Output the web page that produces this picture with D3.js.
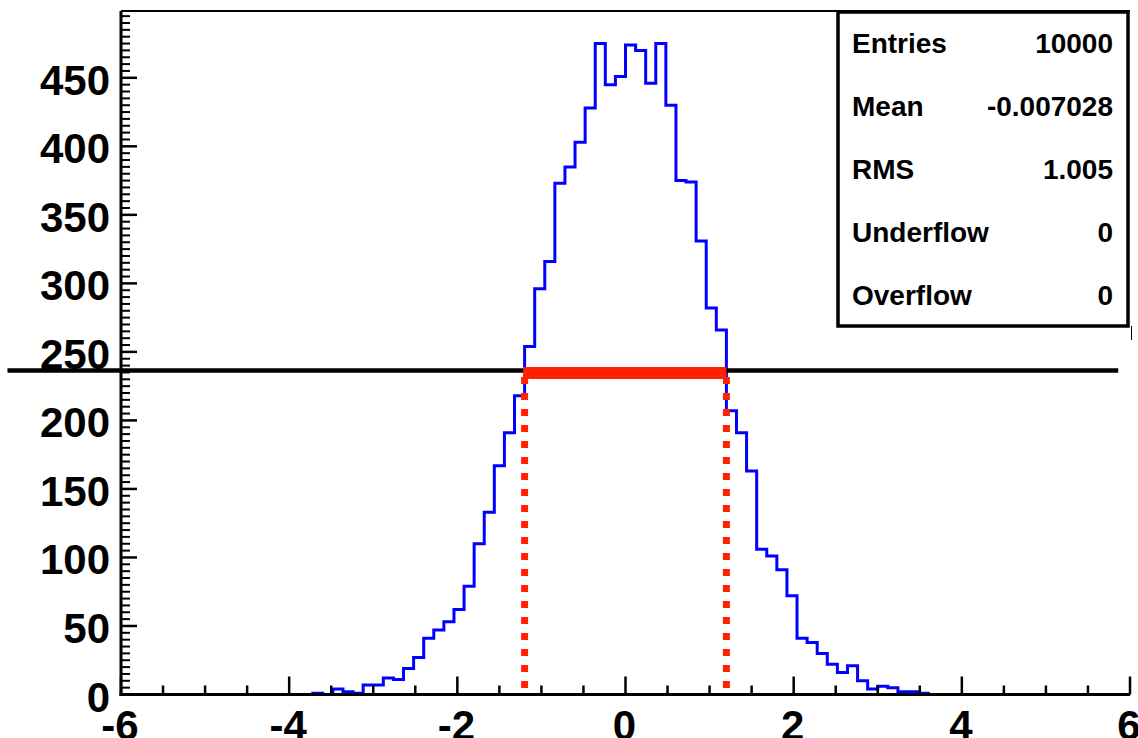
<!DOCTYPE html>
<html>
<head>
<meta charset="utf-8">
<script src="https://cdn.jsdelivr.net/npm/d3@7"></script>
<style>
  html, body { margin: 0; padding: 0; background: #fff; }
  svg { display: block; }
  text { font-family: "Liberation Sans", Arial, Helvetica, sans-serif; font-weight: bold; }
</style>
</head>
<body>
<svg id="chart" width="1138" height="738"></svg>
<script>
// Histogram binning: 100 bins from -6 to 6
const binLow = -6;
const binHigh = 6;
const nBins = 100;

// Bin contents, one value per bin (left to right)
const counts = [
  0, 0, 0, 0, 0, 0, 0, 0, 0, 0,
  0, 0, 0, 0, 0, 0, 0, 0, 0, 1,
  0, 4, 2, 1, 7, 7, 12, 11, 19, 27,
  41, 47, 53, 62, 79, 110, 133, 167, 191, 218,
  254, 296, 316, 373, 385, 403, 428, 475, 445, 451,
  474, 470, 446, 475, 430, 375, 374, 331, 282, 266,
  207, 191, 163, 106, 101, 91, 72, 41, 38, 30,
  22, 16, 21, 10, 4, 6, 5, 2, 2, 1,
  0, 0, 0, 0, 0, 0, 0, 0, 0, 0,
  0, 0, 0, 0, 0, 0, 0, 0, 0, 0
];

// Axis ticks
const xMajorTicks = [-6, -4, -2, 0, 2, 4, 6];
const xMinorStep = 0.5;
const yMajorTicks = [0, 50, 100, 150, 200, 250, 300, 350, 400, 450];
const yMinorStep = 5;

// Statistics box rows
const statNames = ["Entries", "Mean", "RMS", "Underflow", "Overflow"];
const statValues = ["10000", "-0.007028", "1.005", "0", "0"];

// Full width at half maximum: edges and the horizontal reference line
const fwhmEdges = [-1.2, 1.2];
const halfMaxLineX = [-7.35, 5.86];

const svg = d3.select("#chart");

const peak = d3.max(counts);
const yMax = 1.05 * peak;
const halfMax = peak / 2;

const x = d3.scaleLinear().domain([binLow, binHigh]).range([121, 1130]);
const y = d3.scaleLinear().domain([0, yMax]).range([694.5, 11]);

const binWidth = (binHigh - binLow) / nBins;

// Histogram outline as a step path
const pts = [[binLow, 0]];
counts.forEach((c, i) => {
  const lo = binLow + i * binWidth;
  pts.push([lo, c], [lo + binWidth, c]);
});
pts.push([binHigh, 0]);

const line = d3.line().x(d => x(d[0])).y(d => y(d[1]));

svg.append("path")
  .attr("d", line(pts))
  .attr("fill", "none")
  .attr("stroke", "#0000ff")
  .attr("stroke-width", 3)
  .attr("stroke-linejoin", "miter");

// Top frame edge
svg.append("line")
  .attr("x1", x(binLow)).attr("x2", x(binHigh))
  .attr("y1", y(yMax)).attr("y2", y(yMax))
  .attr("stroke", "#000").attr("stroke-width", 2);

// X axis
const gx = svg.append("g");
gx.append("line")
  .attr("x1", x(binLow) - 1.5).attr("x2", x(binHigh))
  .attr("y1", y(0)).attr("y2", y(0))
  .attr("stroke", "#000").attr("stroke-width", 3);
const xMinor = d3.range(binLow, binHigh + 1e-9, xMinorStep).filter(v => !xMajorTicks.includes(v));
gx.selectAll(".xminor").data(xMinor).enter().append("line")
  .attr("x1", d => x(d)).attr("x2", d => x(d))
  .attr("y1", y(0)).attr("y2", y(0) - 9)
  .attr("stroke", "#000").attr("stroke-width", 2.5);
gx.selectAll(".xmajor").data(xMajorTicks).enter().append("line")
  .attr("x1", d => x(d)).attr("x2", d => x(d))
  .attr("y1", y(0)).attr("y2", y(0) - 18)
  .attr("stroke", "#000").attr("stroke-width", 2.5);
gx.selectAll(".xlab").data(xMajorTicks).enter().append("text")
  .attr("x", d => x(d) - 1)
  .attr("y", 740)
  .attr("text-anchor", "middle")
  .attr("font-size", 42)
  .text(d => String(d));

// Y axis
const gy = svg.append("g");
gy.append("line")
  .attr("x1", x(binLow)).attr("x2", x(binLow))
  .attr("y1", y(yMax)).attr("y2", y(0) + 1.5)
  .attr("stroke", "#000").attr("stroke-width", 3);
const yMinor = d3.range(0, yMax, yMinorStep).filter(v => v % 50 !== 0);
gy.selectAll(".yminor").data(yMinor).enter().append("line")
  .attr("x1", x(binLow)).attr("x2", x(binLow) + 9)
  .attr("y1", d => y(d)).attr("y2", d => y(d))
  .attr("stroke", "#000").attr("stroke-width", 2);
gy.selectAll(".ymajor").data(yMajorTicks).enter().append("line")
  .attr("x1", x(binLow)).attr("x2", x(binLow) + 16)
  .attr("y1", d => y(d)).attr("y2", d => y(d))
  .attr("stroke", "#000").attr("stroke-width", 2.5);
gy.selectAll(".ylab").data(yMajorTicks).enter().append("text")
  .attr("x", 110)
  .attr("y", d => y(d) + 17)
  .attr("text-anchor", "end")
  .attr("font-size", 42)
  .text(d => d);

// Half-maximum reference line
svg.append("line")
  .attr("x1", x(halfMaxLineX[0])).attr("x2", x(halfMaxLineX[1]))
  .attr("y1", y(halfMax) + 1.5).attr("y2", y(halfMax) + 1.5)
  .attr("stroke", "#000").attr("stroke-width", 4.5);

// FWHM: dotted drop lines and thick bar
svg.selectAll(".fwhmdrop").data(fwhmEdges).enter().append("line")
  .attr("x1", d => x(d)).attr("x2", d => x(d))
  .attr("y1", y(halfMax) + 8).attr("y2", y(0) - 6)
  .attr("stroke", "#ff2200").attr("stroke-width", 7)
  .attr("stroke-dasharray", "7 9");
svg.append("line")
  .attr("x1", x(fwhmEdges[0]) - 1.5).attr("x2", x(fwhmEdges[1]))
  .attr("y1", y(halfMax) + 4).attr("y2", y(halfMax) + 4)
  .attr("stroke", "#ff2200").attr("stroke-width", 12);

// Statistics box
const box = { x0: 838, x1: 1128, y0: 12, y1: 326 };
svg.append("line")
  .attr("x1", box.x1 + 3.5).attr("x2", box.x1 + 3.5)
  .attr("y1", box.y1).attr("y2", box.y1 + 14)
  .attr("stroke", "#000").attr("stroke-width", 1);
svg.append("rect")
  .attr("x", box.x0).attr("y", box.y0)
  .attr("width", box.x1 - box.x0).attr("height", box.y1 - box.y0)
  .attr("fill", "#fff").attr("stroke", "#000").attr("stroke-width", 3.5);
const rowH = (box.y1 - box.y0) / statNames.length;
const gs = svg.append("g");
gs.selectAll(".sname").data(statNames).enter().append("text")
  .attr("x", 852)
  .attr("y", (d, i) => box.y0 + rowH * (i + 0.5) + 10)
  .attr("font-size", 28)
  .text(d => d);
gs.selectAll(".sval").data(statValues).enter().append("text")
  .attr("x", 1113)
  .attr("y", (d, i) => box.y0 + rowH * (i + 0.5) + 10)
  .attr("text-anchor", "end")
  .attr("font-size", 28)
  .text(d => d);
</script>
</body>
</html>
